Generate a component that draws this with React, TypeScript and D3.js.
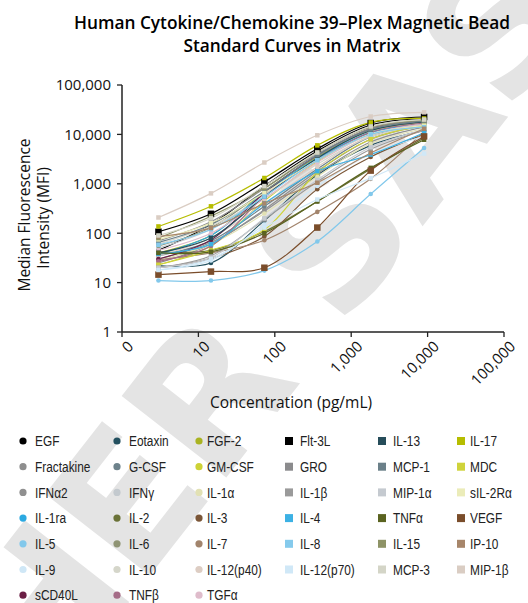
import React from 'react'
import * as d3 from 'd3'

// Standard concentrations (pg/mL)
const concentrations = [3.0, 14.6, 73, 360, 1800, 9000]

const xTicks = [1, 10, 100, 1000, 10000, 100000]
const xTickLabels = ['0', '10', '100', '1,000', '10,000', '100,000']
const yTicks = [1, 10, 100, 1000, 10000, 100000]

// circle analytes (legend columns 1-3)
const circleNames = [
  'EGF', 'Eotaxin', 'FGF-2',
  'Fractakine', 'G-CSF', 'GM-CSF',
  'IFNα2', 'IFNγ', 'IL-1α',
  'IL-1ra', 'IL-2', 'IL-3',
  'IL-5', 'IL-6', 'IL-7',
  'IL-9', 'IL-10', 'IL-12(p40)',
  'sCD40L', 'TNFβ', 'TGFα'
]
const circleColors = [
  '#000000', '#23505f', '#a9b321',
  '#8e8e8e', '#6d828b', '#cdd236',
  '#909090', '#c3c9ce', '#e2e1b4',
  '#2ba9e1', '#6a7237', '#7b5637',
  '#82c8eb', '#8f9474', '#a2846c',
  '#cfe7f6', '#d5d6ca', '#ddcdc3',
  '#6b1f45', '#a56c87', '#dfbccb'
]
const circleMfi = [
  [45, 150, 900, 4600, 15500, 21000],
  [22, 25, 180, 1500, 6000, 12000],
  [40, 90, 700, 3500, 12000, 18000],
  [25, 60, 300, 1800, 8000, 15000],
  [35, 70, 350, 2000, 9000, 16000],
  [23, 55, 450, 2800, 11000, 17000],
  [30, 65, 280, 1600, 7000, 14000],
  [50, 120, 600, 3200, 11000, 17000],
  [28, 60, 250, 1400, 6500, 13000],
  [38, 90, 650, 3300, 11000, 16000],
  [42, 45, 108, 440, 2000, 8500],
  [20, 31, 86, 780, 3500, 10000],
  [11, 11, 17.5, 68, 620, 5300],
  [55, 130, 700, 3600, 12000, 18000],
  [29, 40, 72, 270, 1260, 11500],
  [18, 28, 150, 900, 4000, 9000],
  [60, 140, 500, 2500, 9000, 15000],
  [35, 80, 400, 2200, 9500, 17000],
  [30, 73, 650, 3800, 13000, 19000],
  [27, 55, 550, 3000, 11000, 17000],
  [45, 100, 500, 2700, 10000, 16000]
]

// square analytes (legend columns 4-6)
const squareNames = [
  'Flt-3L', 'IL-13', 'IL-17',
  'GRO', 'MCP-1', 'MDC',
  'IL-1β', 'MIP-1α', 'sIL-2Rα',
  'IL-4', 'TNFα', 'VEGF',
  'IL-8', 'IL-15', 'IP-10',
  'IL-12(p70)', 'MCP-3', 'MIP-1β'
]
const squareColors = [
  '#000000', '#264d5a', '#b6bd00',
  '#8b8b8d', '#6b8089', '#cfd33b',
  '#9a9a9a', '#c5cad0', '#ebecb9',
  '#3cb1e4', '#5a6320', '#7a4d2b',
  '#85caec', '#8e9366', '#a7866a',
  '#d0e8f7', '#d4d5c7', '#dacdc3'
]
const squareMfi = [
  [107, 247, 1090, 5100, 17000, 22500],
  [40, 80, 550, 3300, 12000, 18000],
  [137, 350, 1310, 6000, 17500, 21000],
  [70, 170, 800, 4000, 13000, 19000],
  [65, 150, 700, 3800, 12500, 18500],
  [23, 45, 117, 1700, 8000, 15000],
  [20, 35, 190, 1100, 5000, 12000],
  [20, 32, 200, 1200, 5500, 12500],
  [75, 160, 650, 3000, 10000, 15000],
  [38, 60, 400, 1800, 3900, 10800],
  [40, 42, 100, 440, 2100, 7800],
  [14.5, 16.7, 20, 130, 1850, 9100],
  [58, 120, 550, 3000, 10000, 14000],
  [80, 220, 820, 4300, 14000, 19500],
  [86, 128, 400, 1050, 4200, 13000],
  [18, 30, 130, 480, 1300, 4100],
  [90, 200, 900, 4300, 14500, 20000],
  [208, 640, 2700, 9600, 23000, 28000]
]

const bigSquares = ['Flt-3L', 'VEGF']

const W = 528
const H = 603
const font = "'Open Sans', 'Liberation Sans', sans-serif"
const legendFont = "'Liberation Sans', Arial, sans-serif"

export default function App() {
  const x = d3.scaleLog().domain([1, 100000]).range([122, 504])
  const y = d3.scaleLog().domain([1, 100000]).range([332, 85])

  const line = d3
    .line<number>()
    .x((d, i) => x(concentrations[i]))
    .y(d => y(d))
    .curve(d3.curveCatmullRom.alpha(0.5))

  const series = [
    ...circleNames.map((name, i) => ({ name, color: circleColors[i], values: circleMfi[i], shape: 'circle' })),
    ...squareNames.map((name, i) => ({ name, color: squareColors[i], values: squareMfi[i], shape: 'square' }))
  ]

  const legendMarkX = [23, 117, 199, 289, 382, 461]
  const legendTextX = [35, 129, 207, 300, 393, 470]
  const legendY = (r: number) => 441 + r * 25.7

  const legendLabel = (name: string, lx: number, ly: number) => (
    <text
      transform={`translate(${lx},${ly}) scale(0.82,1)`}
      dy="0.36em"
      fontFamily={legendFont}
      fontSize={14.5}
      fill="#222"
    >
      {name}
    </text>
  )

  return (
    <svg width={W} height={H} style={{ position: 'absolute', left: 0, top: 0 }}>
      <rect width={W} height={H} fill="#fff" />

      {/* watermark */}
      <text
        transform="translate(268,322) rotate(-52)"
        textAnchor="middle"
        dominantBaseline="central"
        fontFamily="'DejaVu Sans', sans-serif"
        fontWeight={900}
        fontSize={182}
        fill="#e4e4e4"
      >
        HER SAS
      </text>

      {/* title */}
      <text x={292} y={29} textAnchor="middle" fontFamily={font} fontWeight={600} fontSize={17.3}>
        Human Cytokine/Chemokine 39–Plex Magnetic Bead
      </text>
      <text x={292} y={52} textAnchor="middle" fontFamily={font} fontWeight={600} fontSize={17.3}>
        Standard Curves in Matrix
      </text>

      {/* y axis */}
      <line x1={122} x2={122} y1={y(100000)} y2={y(1)} stroke="#222" strokeWidth={1.5} />
      {yTicks.map(t => (
        <g key={t}>
          <line x1={117} x2={122} y1={y(t)} y2={y(t)} stroke="#222" strokeWidth={1.3} />
          <text x={111} y={y(t)} dy="0.36em" textAnchor="end" fontFamily={font} fontSize={15} fill="#111">
            {d3.format(',')(t)}
          </text>
        </g>
      ))}
      <text transform="translate(30,215) rotate(-90)" textAnchor="middle" fontFamily={font} fontSize={15.5} fill="#111">
        Median Fluorescence
      </text>
      <text transform="translate(49,218) rotate(-90)" textAnchor="middle" fontFamily={font} fontSize={15.5} fill="#111">
        Intensity (MFI)
      </text>

      {/* x axis */}
      <line x1={x(1)} x2={x(100000)} y1={332} y2={332} stroke="#222" strokeWidth={1.5} />
      {xTicks.map((t, i) => (
        <g key={t}>
          <line x1={x(t)} x2={x(t)} y1={332} y2={337} stroke="#222" strokeWidth={1.3} />
          <text
            transform={`translate(${x(t) + 5},${340}) rotate(-45)`}
            dy="0.7em"
            textAnchor="end"
            fontFamily={font}
            fontSize={15}
            fill="#111"
          >
            {xTickLabels[i]}
          </text>
        </g>
      ))}
      <text x={291} y={408} textAnchor="middle" fontFamily={font} fontSize={15.5} fill="#111">
        Concentration (pg/mL)
      </text>

      {/* curves */}
      {series.map(s => (
        <path key={s.name} d={line(s.values) || ''} fill="none" stroke={s.color} strokeWidth={1.2} />
      ))}
      {series.map(s =>
        s.values.map((v, i) => {
          const cx = x(concentrations[i])
          const cy = y(v)
          if (s.shape === 'circle') {
            return <circle key={s.name + i} cx={cx} cy={cy} r={2.3} fill={s.color} />
          }
          const sz = bigSquares.includes(s.name) ? 6.5 : 4.5
          return <rect key={s.name + i} x={cx - sz / 2} y={cy - sz / 2} width={sz} height={sz} fill={s.color} />
        })
      )}

      {/* legend */}
      {circleNames.map((name, i) => {
        const r = Math.floor(i / 3)
        const c = i % 3
        return (
          <g key={name}>
            <circle cx={legendMarkX[c]} cy={legendY(r)} r={3.6} fill={circleColors[i]} />
            {legendLabel(name, legendTextX[c], legendY(r))}
          </g>
        )
      })}
      {squareNames.map((name, i) => {
        const r = Math.floor(i / 3)
        const c = 3 + (i % 3)
        return (
          <g key={name}>
            <rect x={legendMarkX[c] - 4} y={legendY(r) - 4} width={8} height={8} fill={squareColors[i]} />
            {legendLabel(name, legendTextX[c], legendY(r))}
          </g>
        )
      })}
    </svg>
  )
}
